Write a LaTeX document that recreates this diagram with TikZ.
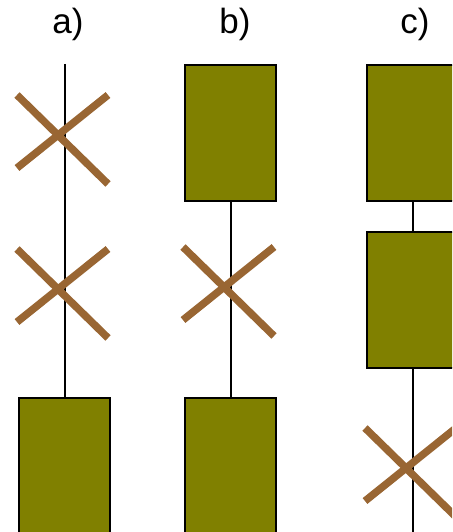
\documentclass[tikz,border=0pt]{standalone}
\usepackage{fontspec}
\setmainfont{Liberation Sans}
\usepackage{tikz}
\usepackage{xcolor}
\definecolor{boxolive}{RGB}{128,128,0}
\definecolor{crossbrown}{RGB}{153,102,51}

% one failed stage: an X, its top left corner at #1
\newcommand\failmark[1]{%
    \draw [crossline] (#1) -- ++(91,89);
    \draw [crossline] (#1) ++(0,73) -- ++(91,-73);}

\begin{document}
\begin{tikzpicture}[x=1pt,y=-1pt,
    stagebox/.style={rectangle, draw=black, fill=boxolive, line width=2pt,
        minimum width=91pt, minimum height=136pt, inner sep=0pt, anchor=north west},
    crossline/.style={crossbrown, line width=7.5pt},
    wire/.style={black, line width=2pt},
    caption/.style={anchor=base, inner sep=0pt, font=\fontsize{35}{40}\selectfont}]
    \useasboundingbox (0,0) rectangle (452,532);
    \clip (0,0) rectangle (452,532);
    % labels
    \node [caption] (La) at (68,34) {a)};
    \node [caption] (Lb) at (235,34) {b)};
    \node [caption] (Lc) at (415,34) {c)};
    % a)
    \node [stagebox] (A3) at (18,397) {};
    \coordinate (Atop) at (A3.north |- 0,64);
    \draw [wire] (Atop) -- (A3.north);
    \failmark{17,95}
    \failmark{17,249}
    % b)
    \node [stagebox] (B1) at (184,64) {};
    \node [stagebox] (B3) at (184,397) {};
    \draw [wire] (B1.south) -- (B3.north);
    \failmark{183,247}
    % c)
    \node [stagebox] (C1) at (366,64) {};
    \node [stagebox] (C2) at (366,231) {};
    \coordinate (Cend) at (C2.south |- 0,532);
    \draw [wire] (C1.south) -- (C2.north);
    \draw [wire] (C2.south) -- (Cend);
    \failmark{365,428}
\end{tikzpicture}
\end{document}
